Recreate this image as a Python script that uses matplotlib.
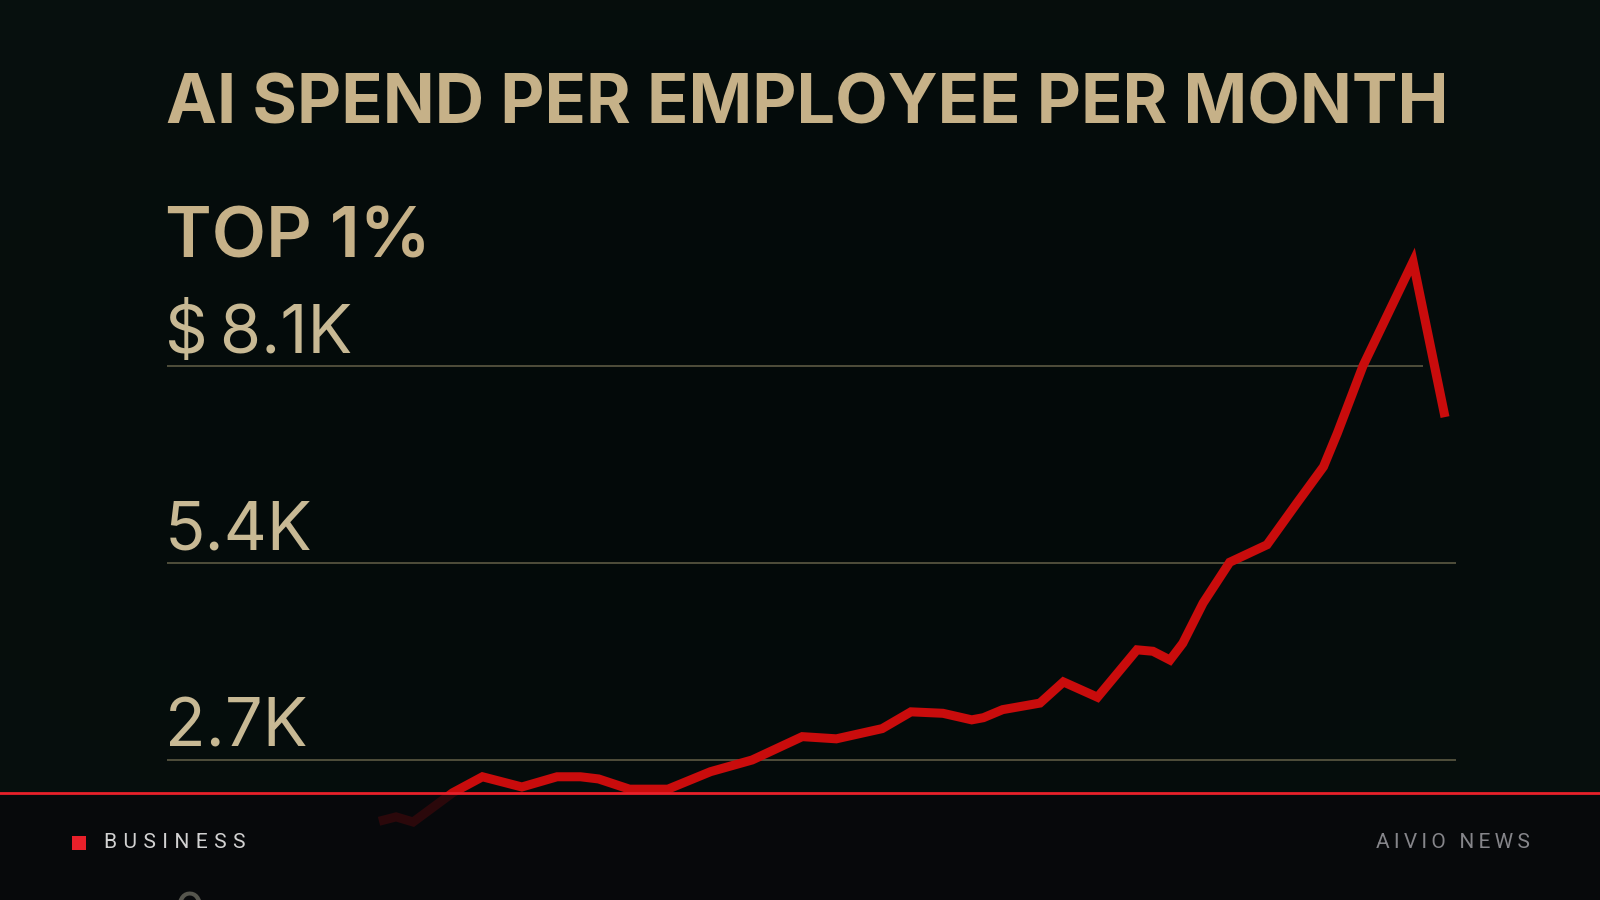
import numpy as np
import matplotlib
matplotlib.use("Agg")
import matplotlib.pyplot as plt
from matplotlib.patches import Rectangle

# weekly index and spend per employee (thousand $)
weeks = [0, 1.6, 3.2, 6.9, 9.7, 13.4, 16.7, 18.9, 20.6, 23.5, 27.1, 31.1, 35.0,
         39.7, 42.9, 47.2, 49.9, 52.9, 55.6, 56.7, 58.5, 62.0, 64.2, 67.4, 71.1,
         72.6, 74.2, 75.4, 77.3, 79.8, 83.3, 86.1, 88.6, 89.9, 92.3, 97.0, 100.0]
spend_k = [1.86, 1.92, 1.85, 2.25, 2.47, 2.33, 2.47, 2.47, 2.44, 2.30, 2.30, 2.54, 2.70,
           3.02, 2.99, 3.13, 3.36, 3.34, 3.25, 3.28, 3.39, 3.48, 3.77, 3.56, 4.21,
           4.19, 4.07, 4.30, 4.85, 5.41, 5.65, 6.22, 6.72, 7.18, 8.10, 9.53, 7.40]
grid_vals = [2.7, 5.4, 8.1]
grid_labels = ["2.7K", "5.4K", "$\u20098.1K"]

title = "AI SPEND PER EMPLOYEE PER MONTH"
subtitle = "TOP 1%"
section = "BUSINESS"
brand = "AIVIO NEWS"

GOLD = "#c6b188"
LABEL = "#c8b994"
RED = "#c90c0c"

W, H = 1600, 900
fig = plt.figure(figsize=(16, 9), dpi=100)

# background with a faint greenish vignette
bg = fig.add_axes([0, 0, 1, 1], zorder=0)
yy, xx = np.mgrid[0:1:90j, 0:1:160j]
r = np.sqrt(((xx - 0.5) / 0.8) ** 2 + ((yy - 0.5) / 0.8) ** 2)
inner = np.array([3, 9, 9]) / 255
outer = np.array([9, 18, 16]) / 255
t = np.clip(r, 0, 1)[..., None] ** 1.5
bg.imshow(inner * (1 - t) + outer * t, extent=[0, 1, 0, 1], aspect="auto", origin="upper")
bg.axis("off")

# chart area
ax = fig.add_axes([167 / W, 0, (1456 - 167) / W, 660 / H], zorder=1)
ax.patch.set_alpha(0)
ax.set_xlim(-19.89, 101.03)
ax.set_ylim(0.781, 9.827)
ax.axis("off")

for v, lab in zip(grid_vals, grid_labels):
    xmax = 97.9 if v == grid_vals[-1] else 101.03
    ax.hlines(v, -19.89, xmax, color="#55533f", lw=1.3)
    ax.annotate(lab, xy=(0, v), xycoords=("axes fraction", "data"),
                xytext=(-2, 13), textcoords="offset pixels",
                fontsize=48, family=["Inter", "DejaVu Sans"], fontweight="normal",
                color=LABEL, va="baseline", ha="left")

ax.plot(weeks, spend_k, color=RED, lw=6.5, solid_joinstyle="miter",
        solid_capstyle="butt", clip_on=False)

# overlay: texts and bottom bar, pixel coordinates
ov = fig.add_axes([0, 0, 1, 1], zorder=2)
ov.set_xlim(0, W)
ov.set_ylim(H, 0)
ov.patch.set_alpha(0)
ov.axis("off")

ov.text(166, 123, title, fontsize=49.2, family=["Inter", "DejaVu Sans"],
        fontweight="bold", color=GOLD, va="baseline", ha="left")
ov.text(165, 257, subtitle, fontsize=51, family=["Inter", "DejaVu Sans"],
        fontweight="semibold", color=GOLD, va="baseline", ha="left")

ov.add_patch(Rectangle((0, 793), W, H - 793, color="#08080b", alpha=0.82, lw=0))
ov.axhline(793, color="#e8202a", lw=2)
ov.add_patch(Rectangle((72, 836), 14, 14, color="#e8202a", lw=0))
ov.text(104, 848, "\u2009\u200a".join(section), fontsize=15.1,
        family=["Roboto", "DejaVu Sans"], color="#d2d2d2", va="baseline", ha="left")
ov.text(1530, 848, "\u2009".join(brand), fontsize=15, family=["Roboto", "DejaVu Sans"],
        color="#85858a", va="baseline", ha="right")
ov.text(174, 892, "0", fontsize=36, family=["Inter", "DejaVu Sans"],
        color="#55554d", va="top", ha="left")

fig.savefig("out.png", dpi=100, facecolor="black")
